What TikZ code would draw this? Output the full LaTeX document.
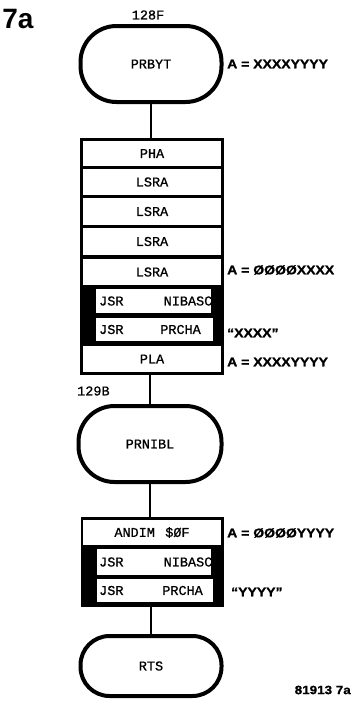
\documentclass[tikz,border=0pt]{standalone}
\usepackage{fontspec}
\setmainfont{Liberation Sans}
\newfontfamily\monofam[FakeBold=0.8]{Liberation Mono}
\newfontfamily\labfam[FakeStretch=1.12,BoldFeatures={FakeBold=1.2}]{Liberation Sans}
\begin{document}
\begin{tikzpicture}[x=1pt,y=-1pt,
  term/.style={draw=black, line width=4pt, rounded corners=36pt, fill=white,
    minimum width=141pt, font=\monofam\fontsize{13.5}{14}\selectfont, inner sep=0pt},
  blockbg/.style={fill=black, inner sep=0pt, anchor=north west},
  row/.style={fill=white, inner sep=0pt, minimum width=138pt,
    font=\monofam\fontsize{13.5}{14}\selectfont},
  jrow/.style={fill=white, inner sep=0pt, anchor=north west},
  mono/.style={font=\monofam\fontsize{13.5}{14}\selectfont, inner sep=0pt},
  lab/.style={font=\labfam\bfseries\fontsize{12.5}{14}\selectfont, inner sep=0pt, anchor=west},
  conn/.style={line width=2pt}
]
\useasboundingbox (0,0) rectangle (353,712);

% title
\node[font=\bfseries\fontsize{28}{30}\selectfont, inner sep=0pt] (title) at (18,19) {7a};
\node[mono] (a128f) at (148,15) {128F};

% PRBYT
\node[term, minimum height=76pt] (prbyt) at (151,64) {PRBYT};
\node[lab] (l1) at (227,64) {A = XXXXYYYY};

% block 1
\node[blockbg, minimum width=144pt, minimum height=237pt] (b1) at (80,138) {};
\node[row, minimum height=25pt] (r1) at (152,153.5) {PHA};
\node[row, minimum height=26pt] (r2) at (152,182) {LSRA};
\node[row, minimum height=27pt] (r3) at (152,211.5) {LSRA};
\node[row, minimum height=27pt] (r4) at (152,241.5) {LSRA};
\node[row, minimum height=26pt] (r5) at (152,272) {LSRA};
\node[jrow, minimum width=115pt, minimum height=24pt] (r6) at (96,289) {};
\node[mono, anchor=west] (r6a) at (99,301) {JSR};
\node[mono, anchor=east] (r6b) at (212.5,301) {NIBASC};
\node[jrow, minimum width=117pt, minimum height=23pt] (r7) at (96,318) {};
\node[mono, anchor=west] (r7a) at (99,329.5) {JSR};
\node[mono, anchor=east] (r7b) at (201,329.5) {PRCHA};
\node[row, minimum height=26pt] (r8) at (152,359) {PLA};

\node[lab] (l2) at (227,270) {A = ØØØØXXXX};
\node[lab] (l3) at (227,333) {“XXXX”};
\node[lab] (l4) at (227,362) {A = XXXXYYYY};

\node[mono, anchor=west] (a129b) at (77,391) {129B};

% PRNIBL
\node[term, minimum height=76pt, minimum width=143pt] (prnibl) at (150,444) {PRNIBL};

% block 2
\node[blockbg, minimum width=143pt, minimum height=90pt] (b2) at (81,517) {};
\node[row, minimum height=25pt] (s1) at (152,532.5) {ANDIM \,\$ØF};
\node[jrow, minimum width=114pt, minimum height=26pt] (s2) at (97,549) {};
\node[mono, anchor=west] (s2a) at (99,562) {JSR};
\node[mono, anchor=east] (s2b) at (212.5,562) {NIBASC};
\node[jrow, minimum width=116pt, minimum height=23pt] (s3) at (97,579) {};
\node[mono, anchor=west] (s3a) at (99,590.5) {JSR};
\node[mono, anchor=east] (s3b) at (203,590.5) {PRCHA};

\node[lab] (l5) at (227,533) {A = ØØØØYYYY};
\node[lab] (l6) at (231,592) {“YYYY”};

% RTS
\node[term, minimum height=60pt, rounded corners=29pt] (rts) at (151,666) {RTS};

\node[font=\labfam\bfseries\fontsize{12}{13}\selectfont, inner sep=0pt, anchor=east] (fig) at (351,690) {81913 7a};

% connectors
\draw[conn] (prbyt.south) -- (b1.north -| prbyt.south);
\draw[conn] (b1.south -| prnibl.north) -- (prnibl.north);
\draw[conn] (prnibl.south) -- (b2.north -| prnibl.south);
\draw[conn] (b2.south -| rts.north) -- (rts.north);
\end{tikzpicture}
\end{document}
